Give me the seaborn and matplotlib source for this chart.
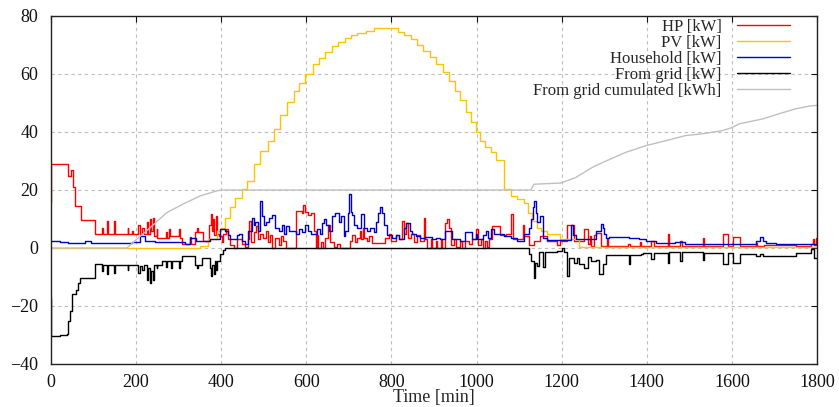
import matplotlib
matplotlib.use("Agg")
import matplotlib.pyplot as plt
import pandas as pd
import seaborn as sns

# ---------------- data (time [min], value) ----------------
hp_steps = [(0, 15.7), (1, 29.0), (40, 25.0), (48, 27.0), (52, 21.0), (57, 14.5), (71, 9.5), (103, 4.8),
            (120, 6.9), (122, 4.8), (131, 9.3), (134, 4.8), (148, 9.3), (150, 4.8), (180, 7.0), (182, 4.8),
            (190, 5.9), (192, 4.8), (205, 8.0), (208, 4.8), (215, 7.0), (218, 4.8), (226, 8.8), (229, 4.8),
            (232, 10.0), (235, 6.0), (240, 10.5), (243, 4.0), (248, 6.5), (250, 3.6), (270, 5.5), (272, 3.6),
            (278, 6.5), (280, 4.0), (300, 6.5), (302, 3.6), (307, 1.3), (326, 3.8), (329, 1.3), (339, 5.5),
            (343, 7.0), (346, 5.5), (358, 2.4), (372, 8.0), (375, 11.7), (378, 6.0), (381, 10.0), (384, 4.5),
            (387, 11.0), (390, 5.0), (394, 4.2), (401, 2.0), (405, 5.0), (412, 6.5), (415, 3.0), (421, 1.0),
            (430, 0.0), (436, 3.0), (448, 1.5), (456, 0.5), (462, 3.0), (466, 9.3), (469, 2.0), (476, 5.5),
            (482, 7.5), (486, 3.0), (492, 5.0), (498, 3.5), (505, 6.0), (509, 2.0), (515, 4.5), (520, 0.0),
            (527, 3.5), (535, 1.0), (540, 4.0), (546, 2.5), (552, 0.0), (575, 12.8), (590, 12.2), (592, 14.9),
            (597, 12.5), (605, 11.5), (611, 12.0), (617, 6.0), (622, 0.0), (624, 4.5), (627, 0.0), (635, 2.0),
            (638, 0.0), (643, 3.6), (651, 8.0), (656, 2.0), (664, 0.5), (672, 1.5), (678, 0.0), (702, 2.5),
            (708, 4.5), (714, 2.0), (720, 3.5), (726, 6.0), (729, 3.0), (733, 7.0), (736, 3.5), (742, 2.5),
            (748, 4.0), (755, 1.7), (786, 3.5), (795, 5.0), (800, 2.5), (810, 4.5), (818, 3.0), (825, 9.3),
            (829, 5.0), (834, 8.5), (838, 3.5), (845, 5.0), (852, 2.0), (860, 4.5), (868, 2.5), (876, 10.5),
            (880, 3.0), (884, 0.0), (893, 3.0), (896, 0.0), (905, 2.5), (908, 0.0), (916, 3.0), (919, 0.0),
            (927, 8.5), (931, 10.0), (935, 7.0), (939, 1.0), (946, 3.0), (952, 0.5), (960, 2.5), (966, 0.0),
            (974, 2.5), (982, 1.5), (990, 3.0), (998, 6.5), (1003, 1.0), (1010, 3.0), (1016, 0.0), (1020, 2.5),
            (1025, 0.5), (1030, 3.0), (1037, 7.5), (1056, 4.5), (1070, 5.0), (1082, 11.7), (1085, 3.0),
            (1108, 8.0), (1111, 4.0), (1124, 1.0), (1135, 2.3), (1150, 4.0), (1166, 2.3), (1190, 1.0),
            (1195, 2.3), (1213, 8.0), (1229, 2.3), (1241, 2.4), (1253, 6.5), (1261, 1.5), (1266, 4.0),
            (1270, 0.8), (1276, 4.5), (1280, 5.3), (1292, 0.6), (1306, 3.0), (1310, 0.6), (1357, 1.5),
            (1360, 0.6), (1383, 2.0), (1386, 0.6), (1410, 2.4), (1418, 0.6), (1449, 4.7), (1453, 0.6),
            (1479, 2.4), (1483, 0.6), (1532, 3.6), (1535, 0.6), (1579, 4.7), (1592, 0.6), (1602, 3.9),
            (1618, 0.6), (1657, 1.8), (1660, 0.6), (1676, 1.0), (1751, 0.6), (1786, 1.5), (1790, 3.0),
            (1794, 1.0), (1797, 3.5), (1800, 3.5)]

pv_steps = [(0, 0.0), (350, 0.7), (370, 3.0), (390, 5.9), (399, 7.0), (409, 10.5), (421, 14.0), (433, 17.4),
            (449, 20.3), (460, 23.2), (476, 29.0), (492, 33.6), (511, 37.0), (523, 41.0), (539, 45.7),
            (555, 50.3), (570, 54.3), (582, 57.0), (598, 60.0), (615, 63.5), (630, 65.5), (645, 67.5),
            (660, 69.5), (675, 71.0), (690, 72.3), (705, 73.3), (720, 74.2), (740, 75.0), (760, 75.8),
            (815, 74.5), (830, 73.4), (845, 72.0), (860, 70.0), (875, 68.0), (890, 66.0), (905, 63.5),
            (920, 60.6), (935, 57.5), (950, 54.0), (962, 50.9), (975, 47.0), (986, 43.5), (998, 40.0),
            (1009, 37.0), (1020, 35.0), (1033, 33.0), (1045, 30.4), (1064, 20.5), (1080, 18.0), (1096, 17.0),
            (1111, 15.5), (1122, 12.0), (1130, 9.3), (1142, 7.0), (1152, 5.9), (1166, 5.0), (1197, 3.0),
            (1240, 0.3), (1800, 0.3)]

household_steps = [(0, 2.4), (20, 2.1), (40, 1.8), (80, 2.3), (94, 1.8), (110, 1.7), (190, 1.9), (209, 4.1),
                   (220, 2.4), (245, 2.1), (290, 2.0), (315, 1.5), (327, 3.5), (340, 2.4), (374, 3.0),
                   (397, 6.5), (409, 6.0), (415, 4.5), (421, 3.0), (436, 4.5), (442, 5.0), (448, 2.5),
                   (456, 1.5), (464, 6.0), (472, 10.5), (476, 8.0), (480, 9.0), (486, 6.0), (492, 16.3),
                   (496, 11.0), (500, 8.0), (506, 9.0), (512, 10.5), (520, 11.5), (527, 7.0), (535, 6.0),
                   (543, 8.0), (548, 5.0), (553, 7.5), (559, 6.0), (575, 5.0), (582, 6.4), (590, 5.5),
                   (598, 8.0), (604, 6.0), (610, 5.0), (626, 6.5), (632, 5.0), (637, 8.5), (642, 10.0),
                   (647, 8.0), (653, 6.0), (661, 11.0), (668, 12.0), (676, 9.0), (682, 11.0), (688, 4.0),
                   (691, 6.0), (697, 12.0), (700, 18.5), (704, 12.5), (708, 11.5), (712, 8.0), (720, 7.0),
                   (728, 11.6), (735, 7.0), (742, 6.0), (750, 7.0), (758, 5.5), (763, 9.0), (768, 12.0),
                   (774, 14.0), (778, 12.0), (782, 8.0), (790, 4.5), (802, 3.5), (810, 4.5), (818, 3.0),
                   (829, 7.0), (834, 8.5), (843, 6.0), (849, 5.0), (857, 4.0), (868, 3.5), (880, 3.8),
                   (895, 3.0), (904, 3.5), (915, 3.0), (927, 5.8), (943, 3.0), (960, 2.5), (974, 5.5),
                   (990, 3.0), (998, 5.0), (1002, 3.0), (1014, 4.5), (1022, 6.0), (1028, 3.5), (1033, 6.5),
                   (1040, 5.0), (1064, 4.0), (1080, 3.5), (1096, 2.5), (1111, 4.7), (1124, 7.0), (1128, 10.0),
                   (1132, 14.0), (1135, 16.3), (1139, 12.0), (1143, 9.0), (1148, 11.0), (1155, 3.5),
                   (1166, 2.7), (1221, 8.0), (1226, 4.5), (1233, 3.0), (1280, 5.9), (1292, 8.2), (1296, 7.0),
                   (1300, 5.0), (1304, 3.6), (1312, 3.8), (1358, 3.4), (1370, 3.3), (1382, 3.0), (1398, 2.4),
                   (1421, 1.8), (1467, 2.2), (1490, 1.3), (1657, 2.4), (1666, 3.9), (1673, 2.4), (1680, 1.8),
                   (1704, 1.3), (1800, 1.3)]

grid_steps = [(0, -17.2), (1, -30.5), (20, -30.0), (37, -29.8), (40, -25.3), (45, -21.8), (50, -16.0),
              (58, -14.5), (64, -12.0), (69, -10.3), (103, -5.6), (120, -8.0), (122, -5.8), (131, -9.0),
              (134, -5.8), (148, -8.5), (150, -6.0), (180, -7.5), (182, -6.0), (205, -8.5), (208, -6.2),
              (215, -7.5), (218, -6.0), (226, -11.0), (229, -7.0), (232, -12.0), (235, -8.0), (240, -11.0),
              (243, -6.0), (248, -7.0), (250, -5.8), (260, -4.5), (270, -6.5), (272, -4.5), (283, -7.0),
              (285, -4.5), (300, -7.0), (302, -4.5), (307, -2.8), (339, -5.8), (343, -7.0), (346, -6.0),
              (355, -3.5), (374, -7.0), (376, -9.7), (379, -6.0), (382, -9.0), (385, -4.5), (388, -7.5),
              (391, -4.5), (398, -2.0), (405, -0.6), (410, 0.0), (1124, -2.2), (1128, -4.5), (1134, -10.5),
              (1137, -5.0), (1143, -6.3), (1147, -1.5), (1155, -6.5), (1160, -1.5), (1190, -1.0), (1201, 0.0),
              (1206, -1.5), (1213, -9.7), (1218, -3.5), (1229, -5.0), (1235, -3.5), (1241, -5.5), (1253, -6.8),
              (1261, -3.0), (1270, -4.5), (1280, -4.0), (1288, -9.1), (1296, -5.6), (1304, -2.5), (1358, -5.6),
              (1361, -2.5), (1386, -2.0), (1390, -1.6), (1410, -3.9), (1418, -1.6), (1449, -5.0), (1453, -1.4),
              (1479, -4.5), (1483, -1.4), (1531, -4.0), (1535, -1.6), (1579, -5.6), (1592, -1.6), (1602, -5.1),
              (1618, -2.0), (1657, -2.8), (1665, -2.0), (1673, -2.8), (1751, -1.6), (1786, -0.5), (1794, -3.3),
              (1800, -3.3)]

cumulated_points = [(0, 0.0), (178, 0.0), (233, 7.0), (272, 12.2), (311, 15.2), (351, 18.0), (390, 19.7),
                    (400, 20.0), (1127, 20.0), (1135, 22.0), (1198, 22.4), (1233, 24.3), (1272, 27.8),
                    (1304, 30.0), (1351, 33.0), (1398, 35.3), (1445, 37.0), (1492, 38.8), (1527, 39.3),
                    (1578, 40.5), (1598, 41.4), (1617, 42.8), (1672, 44.5), (1711, 46.3), (1750, 48.0),
                    (1781, 48.9), (1800, 49.2)]

x_ticks = [0, 200, 400, 600, 800, 1000, 1200, 1400, 1600, 1800]
y_ticks = [-40, -20, 0, 20, 40, 60, 80]

series = [
    (hp_steps, "HP [kW]", "#ff0000", "steps-post"),
    (pv_steps, "PV [kW]", "#ffc400", "steps-post"),
    (household_steps, "Household [kW]", "#0000c8", "steps-post"),
    (grid_steps, "From grid [kW]", "#000000", "steps-post"),
    (cumulated_points, "From grid cumulated [kWh]", "#c0c0c0", "default"),
]

# ---------------- styling ----------------
sns.set_style("white")
plt.rcParams['font.family'] = ['Liberation Serif', 'DejaVu Serif']
plt.rcParams['font.size'] = 13

fig = plt.figure(figsize=(8.39, 4.07), dpi=100)
ax = fig.add_axes([51 / 839, 1 - 364 / 407, (817 - 51) / 839, (364 - 16) / 407])

for data, label, color, ds in series:
    df = pd.DataFrame(data, columns=["t", "v"])
    sns.lineplot(data=df, x="t", y="v", ax=ax, color=color, lw=1.0, label=label,
                 estimator=None, sort=False, drawstyle=ds)

ax.set_xlim(0, 1800)
ax.set_ylim(-40, 80)
ax.set_xticks(x_ticks)
ax.set_yticks(y_ticks)
ax.set_xlabel("Time [min]", fontsize=13, labelpad=-1)
ax.set_ylabel("")

ax.grid(True, color="#bdbdbd", linestyle=(0, (3, 3)), linewidth=0.8)
ax.set_axisbelow(True)
for s in ax.spines.values():
    s.set_color("#222222")
    s.set_linewidth(1.0)
ax.tick_params(direction="in", length=4, width=0.8, top=True, right=True,
               labelsize=13, colors="#111111")
ax.tick_params(axis="x", pad=7)
ax.tick_params(axis="y", pad=9)

handles, labels = ax.get_legend_handles_labels()
ax.legend(handles, labels, loc="upper right", bbox_to_anchor=((790 - 51) / 766, 1 - 3 / 348),
          markerfirst=False, frameon=False, fontsize=12, labelspacing=0.0,
          handlelength=3.2, handletextpad=0.9, borderpad=0, borderaxespad=0)

fig.savefig("out.png", dpi=100)
